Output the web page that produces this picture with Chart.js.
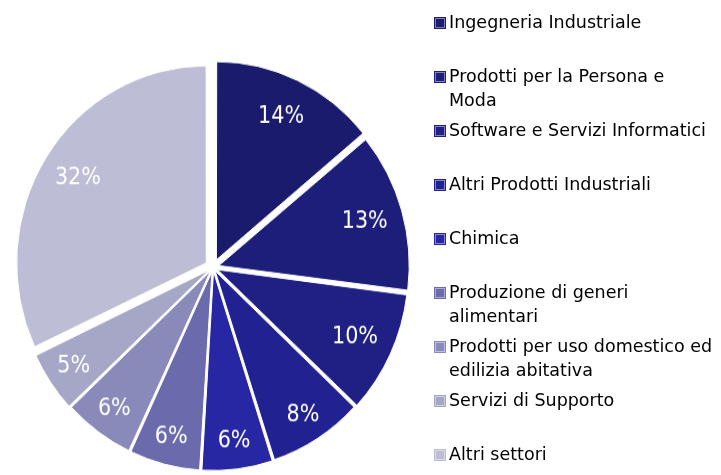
<!DOCTYPE html>
<html>
<head>
<meta charset="utf-8">
<script src="https://cdn.jsdelivr.net/npm/chart.js@4"></script>
<style>
  html, body { margin: 0; padding: 0; background: #ffffff; overflow: hidden; }
  body { width: 721px; height: 475px; position: relative; }
  #pieWrap { position: absolute; left: 0; top: 49.1px; width: 440px; height: 420px; transform: scaleY(1.04); transform-origin: 0 0; }
  #legend { position: absolute; left: 435px; top: 0; width: 286px; height: 475px;
            font-family: "DejaVu Sans", sans-serif; font-size: 17.5px; color: #000; }
  .item { position: absolute; left: 0; display: flex; align-items: flex-start; }
  .mk { width: 10px; height: 10px; margin-top: 8px; margin-right: 4px; flex: none; box-sizing: border-box; }
  .tx { line-height: 24px; white-space: nowrap; }
</style>
</head>
<body>
<div id="pieWrap"><canvas id="c" width="440" height="420"></canvas></div>
<div id="legend"></div>
<script>
// ---- data ----
const categories = [
  "Ingegneria Industriale",
  "Prodotti per la Persona e\nModa",
  "Software e Servizi Informatici",
  "Altri Prodotti Industriali",
  "Chimica",
  "Produzione di generi\nalimentari",
  "Prodotti per uso domestico ed\nedilizia abitativa",
  "Servizi di Supporto",
  "Altri settori"
];
const shares = [14, 13, 10, 8, 6, 6, 6, 5, 32];

// ---- styles ----
const sliceColors = ["#1b1b6e", "#1d1d7a", "#1f1f84", "#212192", "#2727a4", "#6a6aac", "#8a8aba", "#a6a6c6", "#bdbdd6"];
const explode = [32, 24, 20, 16, 16, 16, 16, 18, 32];

// ---- legend (HTML) ----
const legendEl = document.getElementById('legend');
categories.forEach((name, i) => {
  const it = document.createElement('div');
  it.className = 'item';
  it.style.top = (10 + 54 * i) + 'px';
  const mk = document.createElement('div');
  mk.className = 'mk';
  mk.style.background = sliceColors[i];
  mk.style.border = '1px solid rgba(255,255,255,0.45)';
  mk.style.boxShadow = '0 0 0 1px ' + sliceColors[i];
  const tx = document.createElement('div');
  tx.className = 'tx';
  tx.innerHTML = name.split('\n').join('<br>');
  it.appendChild(mk); it.appendChild(tx);
  legendEl.appendChild(it);
});

// ---- percentage labels plugin ----
const pctLabels = {
  id: 'pctLabels',
  afterDatasetsDraw(chart) {
    const ctx = chart.ctx;
    const meta = chart.getDatasetMeta(0);
    ctx.save();
    ctx.font = '23px "DejaVu Sans Condensed", "DejaVu Sans", sans-serif';
    ctx.fillStyle = '#ffffff';
    ctx.textAlign = 'center';
    ctx.textBaseline = 'middle';
    meta.data.forEach((arc, i) => {
      const p = arc.getProps(['x', 'y', 'startAngle', 'endAngle', 'outerRadius']);
      const mid = (p.startAngle + p.endAngle) / 2;
      const f = shares[i] < 10 ? 0.868 : 0.805;
      const r = p.outerRadius * f + explode[i] / 4;
      ctx.fillText(shares[i] + '%', p.x + Math.cos(mid) * r, p.y + Math.sin(mid) * r);
    });
    ctx.restore();
  }
};

new Chart(document.getElementById('c'), {
  type: 'pie',
  data: {
    labels: categories.map(s => s.replace('\n', ' ')),
    datasets: [{
      data: shares,
      backgroundColor: sliceColors,
      borderColor: '#ffffff',
      borderWidth: 1,
      offset: explode,
      hoverOffset: 0
    }]
  },
  options: {
    responsive: false,
    animation: false,
    events: [],
    layout: { padding: { left: 7.7, right: 21.7, top: 4.7, bottom: 4.7 } },
    plugins: {
      legend: { display: false },
      tooltip: { enabled: false }
    }
  },
  plugins: [pctLabels]
});
</script>
</body>
</html>
